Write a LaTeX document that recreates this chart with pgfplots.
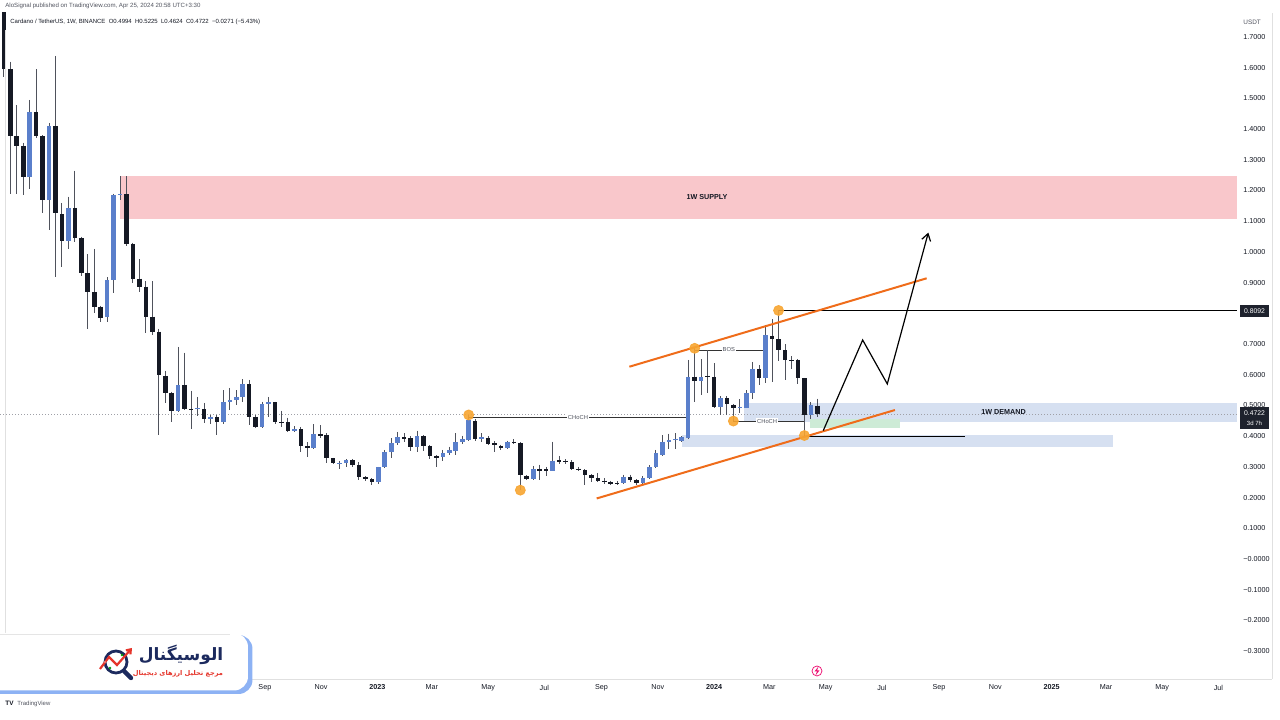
\documentclass[border=0pt]{standalone}
\usepackage{pgfplots}
\pgfplotsset{compat=1.18}
\usepackage{pgfplotstable}
\usetikzlibrary{arrows.meta}
\usepackage{fontspec}
\setmainfont{Liberation Sans}
\newfontfamily\fa[Script=Arabic]{DejaVu Sans}
\TeXXeTstate=1
\definecolor{cdark}{HTML}{151924}
\definecolor{cblue}{HTML}{5A7FCB}
\definecolor{wick}{HTML}{4F525C}
\definecolor{supply}{HTML}{F9C7CB}
\definecolor{demand}{HTML}{D6E0F1}
\definecolor{zgreen}{HTML}{CDEBD6}
\definecolor{orline}{HTML}{EF6C1A}
\definecolor{orcirc}{HTML}{F7A531}
\definecolor{txt}{HTML}{131722}
\definecolor{gtxt}{HTML}{50535E}
\definecolor{boxdark}{HTML}{1E222D}
\definecolor{logoblue}{HTML}{8DB2F4}
\definecolor{navy}{HTML}{1C2A5E}
\definecolor{lred}{HTML}{E5352B}
\newcommand\fs[1]{\fontsize{#1}{#1}\selectfont}

\pgfplotstableread{
k o h l c
1 1.85 1.95 1.57 1.595
2 1.595 1.62 1.19 1.377
3 1.377 1.478 1.19 1.345
4 1.345 1.356 1.185 1.243
6 1.456 1.595 1.37 1.377
7 1.377 1.38 1.127 1.169
9 1.41 1.638 0.919 1.127
10 1.123 1.16 0.952 1.035
12 1.143 1.265 1.033 1.045
13 1.045 1.05 0.921 0.931
14 0.931 0.993 0.749 0.87
15 0.87 1.01 0.80 0.822
16 0.822 0.825 0.773 0.785
20 1.188 1.247 1.02 1.026
21 1.026 1.03 0.90 0.913
22 0.913 0.976 0.870 0.887
23 0.887 0.905 0.737 0.789
24 0.789 0.905 0.729 0.74
25 0.74 0.75 0.404 0.599
26 0.596 0.613 0.508 0.541
27 0.541 0.545 0.447 0.483
29 0.567 0.672 0.485 0.489
30 0.489 0.548 0.423 0.487
32 0.489 0.508 0.443 0.457
34 0.462 0.47 0.404 0.447
39 0.569 0.583 0.436 0.463
40 0.463 0.47 0.425 0.429
43 0.51 0.512 0.44 0.445
44 0.447 0.483 0.43 0.445
45 0.445 0.46 0.415 0.418
47 0.422 0.43 0.349 0.368
48 0.368 0.38 0.331 0.360
50 0.406 0.436 0.395 0.404
51 0.404 0.41 0.311 0.328
52 0.328 0.33 0.31 0.311
55 0.322 0.326 0.30 0.307
56 0.307 0.315 0.257 0.266
57 0.266 0.27 0.255 0.259
58 0.259 0.262 0.241 0.249
63 0.396 0.41 0.38 0.394
64 0.393 0.40 0.35 0.366
66 0.40 0.403 0.35 0.368
67 0.368 0.37 0.325 0.335
68 0.335 0.338 0.30 0.328
74 0.45 0.455 0.385 0.39
76 0.395 0.40 0.37 0.373
77 0.376 0.384 0.349 0.371
78 0.369 0.372 0.356 0.360
80 0.382 0.39 0.375 0.380
81 0.376 0.38 0.224 0.273
82 0.270 0.273 0.257 0.259
84 0.293 0.307 0.257 0.287
85 0.292 0.30 0.27 0.286
87 0.321 0.336 0.31 0.320
88 0.320 0.325 0.31 0.318
89 0.316 0.322 0.29 0.294
90 0.294 0.30 0.285 0.290
91 0.290 0.292 0.241 0.272
92 0.274 0.276 0.25 0.263
93 0.262 0.28 0.252 0.255
94 0.255 0.262 0.245 0.250
95 0.249 0.255 0.24 0.248
96 0.248 0.253 0.24 0.246
98 0.268 0.275 0.252 0.257
99 0.257 0.26 0.24 0.246
108 0.594 0.686 0.512 0.58
110 0.596 0.68 0.54 0.592
111 0.594 0.637 0.49 0.496
113 0.524 0.53 0.47 0.503
114 0.501 0.505 0.452 0.490
118 0.619 0.63 0.566 0.590
120 0.727 0.78 0.575 0.716
121 0.716 0.8092 0.645 0.68
122 0.68 0.70 0.583 0.648
123 0.648 0.66 0.62 0.645
124 0.648 0.65 0.57 0.588
125 0.588 0.59 0.404 0.469
127 0.4994 0.5225 0.4624 0.4722
}\down

\pgfplotstableread{
k o h l c
5 1.243 1.495 1.205 1.456
8 1.169 1.42 1.071 1.41
11 1.035 1.18 1.01 1.143
17 0.787 0.918 0.773 0.909
18 0.909 1.19 0.867 1.185
19 1.185 1.247 1.17 1.188
28 0.483 0.691 0.48 0.567
31 0.487 0.528 0.465 0.491
33 0.457 0.47 0.44 0.462
35 0.447 0.55 0.44 0.511
36 0.511 0.557 0.485 0.518
37 0.518 0.55 0.50 0.528
38 0.528 0.586 0.51 0.569
41 0.429 0.512 0.425 0.503
42 0.503 0.528 0.463 0.51
46 0.418 0.432 0.415 0.422
49 0.360 0.439 0.358 0.406
53 0.311 0.32 0.292 0.313
54 0.313 0.325 0.30 0.322
59 0.249 0.30 0.245 0.298
60 0.298 0.355 0.295 0.349
61 0.349 0.393 0.329 0.376
62 0.376 0.414 0.37 0.396
65 0.366 0.418 0.348 0.40
69 0.331 0.355 0.32 0.344
70 0.344 0.366 0.338 0.355
71 0.353 0.409 0.338 0.380
72 0.380 0.402 0.375 0.390
73 0.387 0.469 0.385 0.452
75 0.39 0.41 0.38 0.396
79 0.360 0.385 0.358 0.382
83 0.259 0.303 0.257 0.292
86 0.287 0.382 0.286 0.320
97 0.246 0.275 0.244 0.268
100 0.246 0.27 0.24 0.265
101 0.265 0.305 0.26 0.298
102 0.298 0.355 0.295 0.344
103 0.339 0.403 0.336 0.382
104 0.382 0.408 0.357 0.387
105 0.387 0.409 0.357 0.392
106 0.385 0.40 0.38 0.396
107 0.393 0.648 0.39 0.594
109 0.579 0.651 0.534 0.592
112 0.496 0.53 0.469 0.524
115 0.490 0.52 0.475 0.495
116 0.493 0.55 0.49 0.541
117 0.541 0.642 0.52 0.619
119 0.590 0.762 0.572 0.729
126 0.469 0.51 0.455 0.501
}\up

\begin{document}
\begin{tikzpicture}
\path[use as bounding box] (0,-20.5bp) rectangle (640bp,339.5bp);
\begin{axis}[
  at={(0,0)}, anchor=south west, scale only axis,
  width=618.5bp, height=333bp,
  xmin=-44.2, xmax=1297.1, ymin=-0.391, ymax=1.778,
  clip mode=individual,
  axis line style={draw=none}, tick style={draw=none}, major tick length=0pt,
  xtick={243,304,365,424,485,546,608,669,730,790,851,912,974,1035,1096,1155,1216,1277},
  xticklabels={Sep,Nov,\textbf{2023},Mar,May,Jul,Sep,Nov,\textbf{2024},Mar,May,Jul,Sep,Nov,\textbf{2025},Mar,May,Jul},
  xticklabel style={font=\fs{3.6bp}, text=txt, anchor=north, inner sep=0pt, yshift=-2.7bp},
  ytick={-0.3,-0.2,-0.1,0,0.1,0.2,0.3,0.4,0.5,0.6,0.7,0.8,0.9,1.0,1.1,1.2,1.3,1.4,1.5,1.6,1.7},
  yticklabels={−0.3000,−0.2000,−0.1000,−0.0000,0.1000,0.2000,0.3000,0.4000,0.5000,0.6000,0.7000,0.8000,0.9000,1.0000,1.1000,1.2000,1.3000,1.4000,1.5000,1.6000,1.7000},
  yticklabel pos=right,
  yticklabel style={font=\fs{3.6bp}, text=txt, anchor=west, inner sep=0pt, xshift=3bp},
]
% zones
\fill[supply] (axis cs:86,1.107) rectangle (axis cs:1297.1,1.247);
\fill[demand] (axis cs:762,0.447) rectangle (axis cs:1297.1,0.507);
\fill[demand] (axis cs:695,0.364) rectangle (axis cs:1162.6,0.404);
\fill[zgreen] (axis cs:834,0.425) rectangle (axis cs:931.7,0.455);
% current price dotted line
\draw[gtxt!55, line width=0.4bp, dash pattern=on 0.6bp off 0.9bp] (axis cs:-44.2,0.4722) -- (axis cs:1297.1,0.4722);
% structure lines
\draw[black, line width=0.5bp] (axis cs:800,0.8092) -- (axis cs:1297.1,0.8092);
\draw[black!80, line width=0.4bp] (axis cs:464,0.4622) -- (axis cs:702,0.4622);
\draw[black!80, line width=0.4bp] (axis cs:751,0.4492) -- (axis cs:828,0.4492);
\draw[black!80, line width=0.4bp] (axis cs:751,0.4492) -- (axis cs:751,0.49);
\draw[black!80, line width=0.4bp] (axis cs:709,0.6805) -- (axis cs:786,0.6805);
\draw[black, line width=0.5bp] (axis cs:828,0.4003) -- (axis cs:1002,0.4003);
\draw[black!80, line width=0.4bp] (axis cs:828,0.4003) -- (axis cs:828,0.469);
% candles: wicks
\addplot[draw=none, mark=none, error bars/.cd, y dir=both, y explicit, error mark=none,
  error bar style={line width=0.5bp, color=wick}]
  table[x expr=7*\thisrow{k}-47, y=h, y error plus expr=0, y error minus expr=\thisrow{h}-\thisrow{l}] {\down};
\addplot[draw=none, mark=none, error bars/.cd, y dir=both, y explicit, error mark=none,
  error bar style={line width=0.5bp, color=wick}]
  table[x expr=7*\thisrow{k}-47, y=h, y error plus expr=0, y error minus expr=\thisrow{h}-\thisrow{l}] {\up};
% candles: bodies
\addplot[draw=none, mark=none, error bars/.cd, y dir=both, y explicit, error mark=none,
  error bar style={line width=2.3bp, color=cdark, line cap=butt}]
  table[x expr=7*\thisrow{k}-47, y expr={max(\thisrow{o},\thisrow{c})}, y error plus expr=0, y error minus expr={max(abs(\thisrow{o}-\thisrow{c}),0.004)}] {\down};
\addplot[draw=none, mark=none, error bars/.cd, y dir=both, y explicit, error mark=none,
  error bar style={line width=2.3bp, color=cblue, line cap=butt}]
  table[x expr=7*\thisrow{k}-47, y expr={max(\thisrow{o},\thisrow{c})}, y error plus expr=0, y error minus expr={max(abs(\thisrow{o}-\thisrow{c}),0.004)}] {\up};
% channel lines
\draw[orline, line width=1bp] (axis cs:638.2,0.626) -- (axis cs:960.6,0.914);
\draw[orline, line width=1bp] (axis cs:602.8,0.197) -- (axis cs:926.2,0.485);
% projection arrow
\draw[black, line width=0.6bp, -{Straight Barb[length=3.5bp,width=4.5bp]}]
  (axis cs:848.5,0.418) -- (axis cs:891.2,0.713) -- (axis cs:917.9,0.570) -- (axis cs:962.4,1.063);
% swing points
\addplot[only marks, mark=*, mark size=2.5bp, color=orcirc, opacity=0.9] coordinates {
  (464,0.469) (520,0.224) (709,0.686) (800,0.8092) (751,0.449) (828,0.402)};
% labels
\node[font=\fs{2.9bp}, text=gtxt, fill=white, inner sep=0.4bp] at (axis cs:582.5,0.4622) {CHoCH};
\node[font=\fs{2.9bp}, text=gtxt, fill=white, inner sep=0.4bp] at (axis cs:787.6,0.4492) {CHoCH};
\node[font=\fs{2.9bp}, text=gtxt, fill=white, inner sep=0.4bp] at (axis cs:746,0.6805) {BOS};
\node[font=\bfseries\fs{3.6bp}, text=txt] at (axis cs:722.4,1.178) {1W SUPPLY};
\node[font=\bfseries\fs{3.6bp}, text=txt] at (axis cs:1044,0.478) {1W DEMAND};
\end{axis}
\begin{scope}[shift={(0,339.5bp)}, x=0.5bp, y=-0.5bp]
% header
\node[anchor=west, inner sep=0pt, font=\fs{3.05bp}, text=gtxt] at (5,6) {AloSignal published on TradingView.com, Apr 25, 2024 20:58 UTC+3:30};
\node[anchor=west, inner sep=0pt, font=\fs{3bp}, text=txt] at (10,22) {Cardano / TetherUS, 1W, BINANCE\ \ O0.4994\ \ H0.5225\ \ L0.4624\ \ C0.4722\ \ −0.0271 (−5.43\%)};
\node[anchor=west, inner sep=0pt, font=\fs{3.2bp}, text=gtxt] at (1243,22) {USDT};
% price boxes
\fill[boxdark] (1240,305) rectangle (1269,317);
\node[font=\fs{3.4bp}, text=white, inner sep=0pt] at (1254.5,311) {0.8092};
\fill[boxdark] (1240,407) rectangle (1269,429);
\node[font=\fs{3.4bp}, text=white, inner sep=0pt] at (1254.5,413.5) {0.4722};
\node[font=\fs{3bp}, text=white, inner sep=0pt] at (1254.5,423.5) {3d 7h};
% light frame lines
\draw[black!12, line width=0.4bp] (5,30) -- (5,679);
\draw[black!12, line width=0.4bp] (0,679.5) -- (1272,679.5);
\draw[black!12, line width=0.4bp] (1272,13) -- (1272,679.5);
% lightning icon
\draw[magenta!70!red, line width=0.35bp] (817,671) circle (5);
\fill[magenta!70!red] (818.5,666.5) -- (814.5,671.5) -- (817,671.5) -- (815.5,675.5) -- (819.5,670.5) -- (817,670.5) -- cycle;
% TradingView footer
\node[anchor=west, inner sep=0pt, font=\bfseries\fs{3.2bp}, text=txt] at (5,703.5) {TV};
\node[anchor=west, inner sep=0pt, font=\fs{3bp}, text=gtxt] at (17,703.5) {TradingView};
% logo box
\fill[logoblue, rounded corners=7bp] (-30,635) rectangle (252.5,694);
\fill[white, rounded corners=7bp] (-30,633) rectangle (248,690.5);
\draw[black!10, line width=0.3bp] (0,634) -- (230,634);
% icon
\draw[navy, line width=1.4bp] (116,662) circle (11);
\draw[navy, line width=2.2bp, line cap=round] (124,671) -- (131,678);
\draw[lred, line width=1.1bp, -{Straight Barb[length=2bp,width=3bp]}] (100,669) -- (109,657) -- (117,665) -- (132,648);
\fill[green!60!black] (110,668) circle (1.3);
\fill[green!60!black] (122,655) circle (1.3);
\fill[lred!60] (105,662) circle (1.1);
% persian text
\node[font=\fa\bfseries\fs{8.5bp}, text=navy, inner sep=0pt] at (181,655) {\beginR الوسیگنال\endR};
\node[font=\fa\bfseries\fs{3.3bp}, text=lred, inner sep=0pt] at (178,673.5) {\beginR مرجع تحلیل ارزهای دیجیتال\endR};
\end{scope}
\end{tikzpicture}
\end{document}
